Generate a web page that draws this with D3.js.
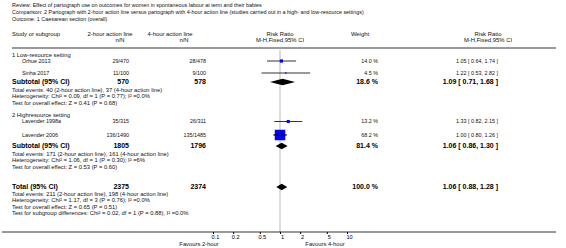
<!DOCTYPE html>
<meta charset="utf-8">
<script src="https://d3js.org/d3.v7.min.js"></script>
<style>
body { margin: 0; background: #fff; }
svg { font-family: "Liberation Sans", Arial, sans-serif; }
.sm { font-size: 5.4px; fill: #111; }
.hd { font-size: 5.9px; fill: #111; }
.nt { font-size: 5.8px; fill: #111; }
.bd { font-size: 7px; font-weight: bold; fill: #000; }
</style>
<body>
<div id="chart"></div>
<script>
// header texts
var review = "Review:  Effect of partograph use on outcomes for women in spontaneous labour at term and their babies";
var comparison = "Comparison:  2 Partograph with 2-hour action line versus partograph with 4-hour action line (studies carried out in a high- and low-resource settings)";
var outcome = "Outcome:  1 Caesarean section (overall)";

// studies
var groups = ["1 Low-resource setting", "2 Highresource setting"];
var studies = ["Orhue 2013", "Sinha 2017", "Lavender 1998a", "Lavender 2006"];
var ev2 = [29, 11, 35, 136];
var n2 = [470, 100, 315, 1490];
var ev4 = [28, 9, 26, 135];
var n4 = [478, 100, 311, 1485];
var weight = [14.0, 4.5, 13.2, 68.2];
var rr = [1.05, 1.22, 1.33, 1.00];
var lo = [0.64, 0.53, 0.82, 0.80];
var hi = [1.74, 2.82, 2.15, 1.26];

// subtotals per group
var subN2 = [570, 1805];
var subN4 = [578, 1796];
var subWeight = [18.6, 81.4];
var subRR = [1.09, 1.06];
var subLo = [0.71, 0.86];
var subHi = [1.68, 1.30];
var subNotes = [
  ["Total events: 40 (2-hour action line), 37 (4-hour action line)",
   "Heterogeneity: Chi\u00b2 = 0.09, df = 1 (P = 0.77); I\u00b2 =0.0%",
   "Test for overall effect: Z = 0.41 (P = 0.68)"],
  ["Total events: 171 (2-hour action line), 161 (4-hour action line)",
   "Heterogeneity: Chi\u00b2 = 1.06, df = 1 (P = 0.30); I\u00b2 =6%",
   "Test for overall effect: Z = 0.53 (P = 0.60)"]
];

// overall
var totN2 = 2375, totN4 = 2374, totWeight = 100.0;
var totRR = 1.06, totLo = 0.88, totHi = 1.28;
var totNotes = [
  "Total events: 211 (2-hour action line), 198 (4-hour action line)",
  "Heterogeneity: Chi\u00b2 = 1.17, df = 3 (P = 0.76); I\u00b2 =0.0%",
  "Test for overall effect: Z = 0.65 (P = 0.51)",
  "Test for subgroup differences: Chi\u00b2 = 0.02, df = 1 (P = 0.88), I\u00b2 =0.0%"
];

var ticks = [0.1, 0.2, 0.5, 1, 2, 5, 10];
var favours = ["Favours 2-hour", "Favours 4-hour"];

// layout ------------------------------------------------------------
var width = 566, height = 248;
var groupY = [55, 115];
var studyY = [61, 73, 121.5, 135];
var subY = [82, 146];
var noteStep = 6.5;
var totY = 187;
var axisY = 232;
var col = {left: 12, study: 22, n2: 129, n4: 206, w: 378, ci: 498};

var svg = d3.select("#chart").append("svg")
  .attr("width", width).attr("height", height);

var x = d3.scaleLog().domain([0.1, 10]).range([213, 347]);
var sq = d3.scalePow().exponent(0.75).domain([0, 68.2]).range([0, 10.5]);

function fmt(v) { return d3.format(".2f")(v); }
function ciText(m, l, h) { return fmt(m) + " [ " + fmt(l) + ", " + fmt(h) + " ]"; }

function txt(s, xx, yy, cls, anchor) {
  return svg.append("text").attr("x", xx).attr("y", yy).attr("dy", "0.35em")
    .attr("class", cls).style("text-anchor", anchor || "start").text(s);
}

// titles
txt(review, col.left, 5, "sm");
txt(comparison, col.left, 12, "sm");
txt(outcome, col.left, 19, "sm");

// column headers
txt("Study or subgroup", col.left, 34, "hd");
txt("2-hour action line", 110, 34, "hd", "middle");
txt("n/N", 120, 40, "hd", "middle");
txt("4-hour action line", 170, 34, "hd", "middle");
txt("n/N", 184, 40, "hd", "middle");
txt("Risk Ratio", x(1), 34, "hd", "middle");
txt("M-H,Fixed,95% CI", x(1), 40, "hd", "middle");
txt("Weight", 360, 34, "hd", "middle");
txt("Risk Ratio", 488, 34, "hd", "middle");
txt("M-H,Fixed,95% CI", 488, 40, "hd", "middle");

svg.append("line").attr("x1", col.left).attr("x2", 556)
  .attr("y1", 48).attr("y2", 48)
  .attr("stroke", "#9a9a9a").attr("stroke-width", 2);

// null line
svg.append("line").attr("x1", x(1)).attr("x2", x(1))
  .attr("y1", 50).attr("y2", axisY)
  .attr("stroke", "#dcdcdc").attr("stroke-width", 2);

// groups
groups.forEach(function(g, i) { txt(g, col.left, groupY[i], "nt"); });

// studies
studies.forEach(function(s, i) {
  var y = studyY[i];
  txt(s, col.study, y, "sm");
  txt(ev2[i] + "/" + n2[i], col.n2, y, "sm", "end");
  txt(ev4[i] + "/" + n4[i], col.n4, y, "sm", "end");
  txt(d3.format(".1f")(weight[i]) + " %", col.w, y, "sm", "end");
  txt(ciText(rr[i], lo[i], hi[i]), col.ci, y, "sm", "end");
  svg.append("line").attr("x1", x(lo[i])).attr("x2", x(hi[i]))
    .attr("y1", y).attr("y2", y).attr("stroke", "#000").attr("stroke-width", 0.8);
  var s2 = Math.max(sq(weight[i]), 1.2);
  svg.append("rect").attr("x", x(rr[i]) - s2 / 2).attr("y", y - s2 / 2)
    .attr("width", s2).attr("height", s2).attr("fill", "#0000ff");
  if (s2 > 4) {
    svg.append("line").attr("x1", x(lo[i])).attr("x2", x(hi[i]))
      .attr("y1", y).attr("y2", y).attr("stroke", "#000").attr("stroke-width", 0.8);
  }
});

function diamond(m, l, h, y) {
  var pts = [[x(l), y], [x(m), y - 3.3], [x(h), y], [x(m), y + 3.3]];
  svg.append("polygon").attr("points", pts.join(" ")).attr("fill", "#000");
}

// subtotals
subN2.forEach(function(v, i) {
  var y = subY[i];
  txt("Subtotal (95% CI)", col.left, y, "bd");
  txt(subN2[i], col.n2, y, "bd", "end");
  txt(subN4[i], col.n4, y, "bd", "end");
  txt(d3.format(".1f")(subWeight[i]) + " %", col.w, y, "bd", "end");
  txt(ciText(subRR[i], subLo[i], subHi[i]), col.ci, y, "bd", "end");
  diamond(subRR[i], subLo[i], subHi[i], y);
  subNotes[i].forEach(function(n, j) { txt(n, col.left, y + 7.5 + j * noteStep, "nt"); });
});

// total
txt("Total (95% CI)", col.left, totY, "bd");
txt(totN2, col.n2, totY, "bd", "end");
txt(totN4, col.n4, totY, "bd", "end");
txt(d3.format(".1f")(totWeight) + " %", col.w, totY, "bd", "end");
txt(ciText(totRR, totLo, totHi), col.ci, totY, "bd", "end");
diamond(totRR, totLo, totHi, totY);
totNotes.forEach(function(n, j) { txt(n, col.left, totY + 6.5 + j * noteStep, "nt"); });

// axis
svg.append("line").attr("x1", 2).attr("x2", 556)
  .attr("y1", axisY).attr("y2", axisY).attr("stroke", "#000").attr("stroke-width", 0.8);
var ax = svg.append("g").attr("transform", "translate(0," + axisY + ")")
  .call(d3.axisBottom(x).tickValues(ticks).tickFormat(d3.format("")).tickSize(2).tickPadding(1.5));
ax.select(".domain").remove();
ax.selectAll("text").attr("font-size", "5.6px").attr("font-family", "Liberation Sans, Arial, sans-serif").attr("dx", "2");
txt(favours[0], 199, 244, "nt", "middle");
txt(favours[1], 325, 244, "nt", "middle");
</script>
</body>
